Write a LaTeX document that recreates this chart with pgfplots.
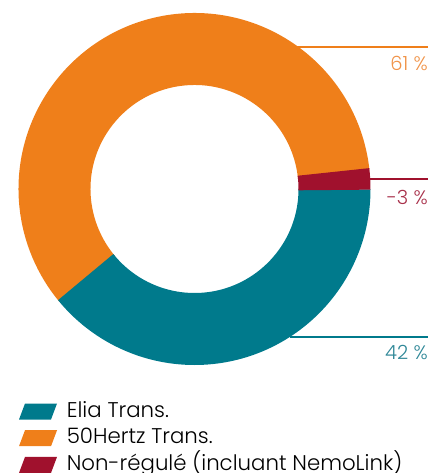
\documentclass[border=0pt]{standalone}
\usepackage{pgfplots}
\pgfplotsset{compat=1.18}
\usepackage{fontspec}
\setmainfont{Poppins Light}
\definecolor{eliateal}{HTML}{007A8C}
\definecolor{hertzorange}{HTML}{EF7F1A}
\definecolor{nrred}{HTML}{A0112D}
\definecolor{labteal}{HTML}{2E8797}
\definecolor{laborange}{HTML}{F09348}
\definecolor{labred}{HTML}{A8304A}
% slice angles (degrees): Elia 141, Non-regule 7, 50Hertz 212
\def\aElia{141}
\def\aNR{7}
\def\aHertz{212}
\begin{document}
\begin{tikzpicture}
\useasboundingbox (0,0) rectangle (431pt,473pt);
\begin{axis}[at={(0,0)}, anchor=south west, x=1pt, y=1pt,
  xmin=0, xmax=431, ymin=0, ymax=473, hide axis, clip=false, scale only axis,
  legend style={at={(axis cs:19,74.8)}, anchor=north west, draw=none, fill=none,
    font=\fontsize{21.3}{25}\selectfont, inner sep=0pt, outer sep=0pt,
    nodes={text height=16pt, text depth=5pt, inner sep=2.85pt}},
  legend cell align=left]
% donut slices (orange underneath, slightly extended to hide seams)
\addplot[draw=hertzorange, line width=72pt, forget plot] coordinates {(194.5,284)} ++(\aNR-1:140pt) arc[start angle=\aNR-1, end angle=\aNR+\aHertz+1, radius=140pt];
\addplot[draw=eliateal, line width=72pt, forget plot] coordinates {(194.5,284)} ++(0:140pt) arc[start angle=0, end angle=-\aElia, radius=140pt];
\addplot[draw=nrred, line width=72pt, forget plot] coordinates {(194.5,284)} ++(-0.4:140pt) arc[start angle=-0.4, end angle=\aNR, radius=140pt];
% leader lines
\addplot[draw=hertzorange, line width=1.6pt, forget plot] coordinates {(297,426) (428,426)};
\addplot[draw=nrred, line width=1.6pt, forget plot] coordinates {(370,294) (428,294)};
\addplot[draw=eliateal, line width=1.6pt, forget plot] coordinates {(290,136) (428,136)};
\node[anchor=east, text=laborange, font=\fontsize{19.5}{22}\selectfont, inner sep=0pt] at (axis cs:428,410) {61 \%};
\node[anchor=east, text=labred, font=\fontsize{19.5}{22}\selectfont, inner sep=0pt] at (axis cs:428,276) {-3 \%};
\node[anchor=east, text=labteal, font=\fontsize{19.5}{22}\selectfont, inner sep=0pt] at (axis cs:428,120) {42 \%};
% legend
\addlegendimage{legend image code/.code={\fill[eliateal, draw=none] (0pt,-8pt) -- (32pt,-8pt) -- (38pt,8pt) -- (6pt,8pt) -- cycle; \path[draw=none, fill=none] (0pt,0pt) -- (45pt,0pt);}}
\addlegendentry{Elia Trans.}
\addlegendimage{legend image code/.code={\fill[hertzorange, draw=none] (0pt,-8pt) -- (32pt,-8pt) -- (38pt,8pt) -- (6pt,8pt) -- cycle; \path[draw=none, fill=none] (0pt,0pt) -- (45pt,0pt);}}
\addlegendentry{50Hertz Trans.}
\addlegendimage{legend image code/.code={\fill[nrred, draw=none] (0pt,-8pt) -- (32pt,-8pt) -- (38pt,8pt) -- (6pt,8pt) -- cycle; \path[draw=none, fill=none] (0pt,0pt) -- (45pt,0pt);}}
\addlegendentry{Non-régulé (incluant NemoLink)}
\end{axis}
\end{tikzpicture}
\end{document}
